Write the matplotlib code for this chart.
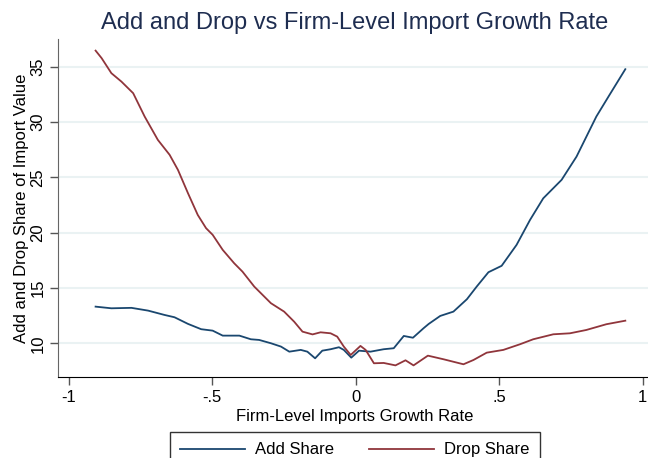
import matplotlib.pyplot as plt

# ---- data ----
add_x = [-0.906, -0.851, -0.781, -0.723, -0.666, -0.631, -0.584, -0.538, -0.498,
         -0.463, -0.405, -0.365, -0.336, -0.295, -0.260, -0.231, -0.191, -0.168,
         -0.141, -0.116, -0.087, -0.058, -0.041, -0.015, 0.012, 0.052, 0.098,
         0.133, 0.168, 0.200, 0.237, 0.255, 0.295, 0.341, 0.388, 0.422, 0.463,
         0.509, 0.561, 0.608, 0.654, 0.718, 0.770, 0.839, 0.885, 0.940]
add_y = [13.31, 13.16, 13.20, 12.95, 12.56, 12.35, 11.75, 11.27, 11.14,
         10.69, 10.69, 10.36, 10.30, 10.00, 9.70, 9.24, 9.40, 9.24,
         8.64, 9.33, 9.46, 9.64, 9.40, 8.70, 9.33, 9.24, 9.46,
         9.55, 10.66, 10.50, 11.36, 11.75, 12.47, 12.86, 13.98, 15.12, 16.42,
         17.00, 18.89, 21.15, 23.10, 24.77, 26.87, 30.49, 32.45, 34.77]

drop_x = [-0.906, -0.885, -0.851, -0.816, -0.775, -0.735, -0.689, -0.648, -0.619,
          -0.584, -0.550, -0.521, -0.498, -0.463, -0.423, -0.394, -0.353, -0.295,
          -0.249, -0.214, -0.185, -0.150, -0.122, -0.087, -0.064, -0.041, -0.017,
          0.017, 0.035, 0.064, 0.098, 0.139, 0.174, 0.202, 0.252, 0.307, 0.376,
          0.411, 0.457, 0.515, 0.573, 0.619, 0.689, 0.747, 0.804, 0.874, 0.940]
drop_y = [36.45, 35.77, 34.41, 33.65, 32.60, 30.49, 28.38, 27.03, 25.67,
          23.56, 21.60, 20.40, 19.80, 18.44, 17.23, 16.47, 15.12, 13.62,
          12.86, 11.95, 11.05, 10.80, 10.99, 10.90, 10.60, 9.70, 8.94,
          9.76, 9.40, 8.19, 8.22, 8.00, 8.46, 8.00, 8.88, 8.55, 8.10,
          8.49, 9.15, 9.40, 9.91, 10.36, 10.81, 10.90, 11.20, 11.72, 12.04]

x_ticks = [-1, -0.5, 0, 0.5, 1]
x_ticklabels = ['-1', '-.5', '0', '.5', '1']
y_ticks = [10, 15, 20, 25, 30, 35]

ADD_COLOR = '#1a476f'
DROP_COLOR = '#90353b'
GRID_COLOR = '#eaf2f3'
TITLE_COLOR = '#1e2d50'

W, H = 648, 458

plt.rcParams['font.family'] = ['Liberation Sans', 'DejaVu Sans']

fig = plt.figure(figsize=(W / 100, H / 100), dpi=100)
left, right, top, bottom = 58, 652, 39, 377
ax = fig.add_axes([left / W, 1 - bottom / H, (right - left) / W, (bottom - top) / H])

ax.plot(add_x, add_y, color=ADD_COLOR, lw=1.3, label='Add Share')
ax.plot(drop_x, drop_y, color=DROP_COLOR, lw=1.3, label='Drop Share')

ax.set_xlim(-1.037, 1.033)
ax.set_ylim(6.95, 37.5)
ax.set_xticks(x_ticks)
ax.set_xticklabels(x_ticklabels)
ax.set_yticks(y_ticks)
for lbl in ax.get_yticklabels():
    lbl.set_rotation(90)
    lbl.set_va('center')

ax.tick_params(axis='both', labelsize=12, length=6, width=1, color='#555555', pad=3)
ax.grid(axis='y', color=GRID_COLOR, lw=1.5)
ax.set_axisbelow(True)

for s in ('top', 'right'):
    ax.spines[s].set_visible(False)
ax.spines['left'].set_color('#666666')
ax.spines['bottom'].set_color('black')

ax.set_xlabel('Firm-Level Imports Growth Rate', fontsize=12, labelpad=3)
ax.set_ylabel('Add and Drop Share of Import Value', fontsize=12, labelpad=1)

fig.text(355 / W, 1 - 23 / H, 'Add and Drop vs Firm-Level Import Growth Rate',
         ha='center', va='center', fontsize=17, color=TITLE_COLOR)

fig.legend(loc='upper center', bbox_to_anchor=(355 / W, 1 - 432 / H), ncol=2,
           fontsize=12, frameon=True, fancybox=False, edgecolor='black',
           handlelength=3.9, handletextpad=0.6, columnspacing=2.1,
           borderpad=0.62, borderaxespad=0)

fig.savefig('out.png', dpi=100)
